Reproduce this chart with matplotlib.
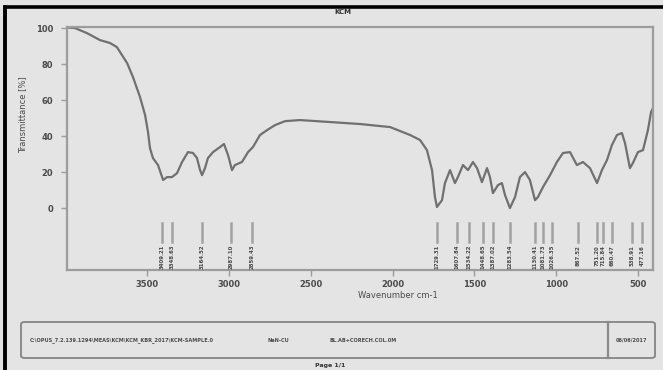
import matplotlib
matplotlib.use("Agg")
import matplotlib.pyplot as plt
from matplotlib.lines import Line2D
from matplotlib.patches import FancyBboxPatch

# IR spectrum (wavenumber in cm-1, transmittance in %)
wavenumber = [
    3989, 3940, 3867, 3787, 3726, 3684, 3622, 3586, 3543, 3512,
    3494, 3482, 3464, 3433, 3402, 3378, 3348, 3317, 3286, 3250,
    3219, 3195, 3176, 3164, 3146, 3128, 3097, 3054, 3030, 3005,
    2981, 2963, 2920, 2883, 2853, 2810, 2767, 2718, 2657, 2565,
    2382, 2199, 2015, 1893, 1832, 1790, 1759, 1741, 1729, 1698,
    1680, 1649, 1619, 1601, 1570, 1539, 1509, 1484, 1454, 1423,
    1405, 1387, 1356, 1332, 1313, 1283, 1252, 1222, 1191, 1161,
    1130, 1112, 1081, 1038, 996, 959, 916, 874, 837, 794,
    751, 721, 690, 660, 629, 599, 580, 550, 532, 501,
    470, 440, 421, 409,
]
transmittance = [
    100.3, 100.0, 97.2, 93.3, 91.7, 89.4, 80.6, 72.8, 61.7, 51.7,
    42.2, 33.3, 27.8, 23.9, 15.6, 17.2, 17.2, 19.4, 25.6, 31.1,
    30.6, 27.8, 21.1, 18.3, 22.2, 27.8, 31.1, 33.9, 35.6, 29.4,
    21.1, 23.9, 25.6, 31.1, 33.9, 40.6, 43.3, 46.1, 48.3, 48.9,
    47.8, 46.7, 45.0, 40.6, 37.8, 32.2, 21.1, 6.1, 0.6, 4.4,
    13.9, 21.1, 13.9, 17.2, 23.9, 21.1, 25.6, 22.2, 14.4, 22.2,
    17.2, 8.3, 12.8, 13.9, 7.2, 0.0, 6.1, 17.2, 20.0, 15.6,
    4.4, 6.1, 11.7, 18.3, 25.6, 30.6, 31.1, 23.9, 25.6, 22.2,
    13.9, 21.1, 26.7, 35.0, 40.6, 41.7, 36.1, 22.2, 25.0, 31.1,
    32.2, 43.3, 53.3, 55.6,
]

# Picked peak positions (cm-1)
peak_wavenumbers = [
    3409.21, 3348.63, 3164.52, 2987.10, 2859.43, 1729.31, 1607.84,
    1534.22, 1448.65, 1387.02, 1283.54, 1130.41, 1081.73, 1026.35,
    867.52, 751.20, 715.84, 660.47, 538.91, 477.16,
]

x_ticks = [3500, 3000, 2500, 2000, 1500, 1000, 500]
y_ticks = [0, 20, 40, 60, 80, 100]

sample_title = "KCM"
x_title = "Wavenumber cm-1"
y_title = "Transmittance [%]"
file_path = "C:\\OPUS_7.2.139.1294\\MEAS\\KCM\\KCM_KBR_2017\\KCM-SAMPLE.0"
operator = "NaN-CU"
method = "BL.AB+CORECH.COL.0M"
print_date = "06/06/2017"
page_text = "Page 1/1"

BG = "#e4e4e4"
AXIS_GRAY = "#9c9c9c"
TEXT_GRAY = "#4a4a4a"

fig = plt.figure(figsize=(6.63, 3.70), dpi=100, facecolor=BG)

ax = fig.add_axes([67 / 663, 1 - 270 / 370, 586 / 663, 243 / 370])
ax.set_facecolor(BG)
ax.plot(wavenumber, transmittance, color="#707070", lw=1.6,
        solid_joinstyle="round", solid_capstyle="round")

ax.set_xlim(3989, 409)
ax.set_ylim(-34.4, 100.6)
ax.set_xticks(x_ticks)
ax.set_yticks(y_ticks)
ax.set_xticklabels([str(t) for t in x_ticks])
ax.set_yticklabels([str(t) for t in y_ticks])

for spine in ax.spines.values():
    spine.set_color(AXIS_GRAY)
    spine.set_linewidth(1.6)

ax.tick_params(axis="both", direction="out", length=4, width=1.0,
               color=AXIS_GRAY, labelsize=6, labelcolor=TEXT_GRAY)
ax.tick_params(axis="x", pad=3)
ax.tick_params(axis="y", pad=6)
for lbl in ax.get_xticklabels() + ax.get_yticklabels():
    lbl.set_fontweight("bold")

ax.set_xlabel(x_title, fontsize=6, color=TEXT_GRAY)
ax.xaxis.set_label_coords(0.5 + 38 / 586, -21 / 243)
ax.set_ylabel(y_title, fontsize=6, color=TEXT_GRAY)
ax.yaxis.set_label_coords(-40 / 586, 0.64)

# Peak markers with rotated wavenumber labels
for p in peak_wavenumbers:
    ax.plot([p, p], [-8.3, -18.9], color="#a2a2a2", lw=1.8)
    ax.text(p, -20.4, f"{p:.2f}", rotation=90, ha="center", va="top",
            fontsize=3.9, color=TEXT_GRAY, fontweight="bold")

fig.text(343 / 663, 1 - 12 / 370, sample_title, ha="center", va="center",
         fontsize=5, fontweight="bold", color="#333333")

# Page frame lines
fig.add_artist(Line2D([5 / 663, 1], [1 - 6.7 / 370, 1 - 6.7 / 370],
                      color="black", lw=2.6, transform=fig.transFigure))
fig.add_artist(Line2D([5.3 / 663, 5.3 / 663], [0, 1 - 6.7 / 370],
                      color="black", lw=2.8, transform=fig.transFigure))

# Footer info box
x0, x1 = 21 / 663, 655 / 663
y0, y1 = 1 - 358 / 370, 1 - 322 / 370
box = FancyBboxPatch((x0, y0), x1 - x0, y1 - y0,
                     boxstyle="round,pad=0,rounding_size=0.006",
                     transform=fig.transFigure, facecolor="none",
                     edgecolor="#8a8a8a", lw=1.4)
fig.add_artist(box)
fig.add_artist(Line2D([608 / 663, 608 / 663], [y0, y1], color="#8a8a8a",
                      lw=1.6, transform=fig.transFigure))

ty = 1 - 340 / 370
fig.text(30 / 663, ty, file_path, ha="left", va="center", fontsize=3.6,
         color=TEXT_GRAY, fontweight="bold")
fig.text(268 / 663, ty, operator, ha="left", va="center", fontsize=3.6,
         color=TEXT_GRAY, fontweight="bold")
fig.text(330 / 663, ty, method, ha="left", va="center", fontsize=3.6,
         color=TEXT_GRAY, fontweight="bold")
fig.text(632 / 663, ty, print_date, ha="center", va="center", fontsize=3.6,
         color=TEXT_GRAY, fontweight="bold")
fig.text(330 / 663, 1 - 365 / 370, page_text, ha="center", va="center",
         fontsize=4.5, color="#333333", fontweight="bold")

fig.savefig("out.png", dpi=100, facecolor=BG)
